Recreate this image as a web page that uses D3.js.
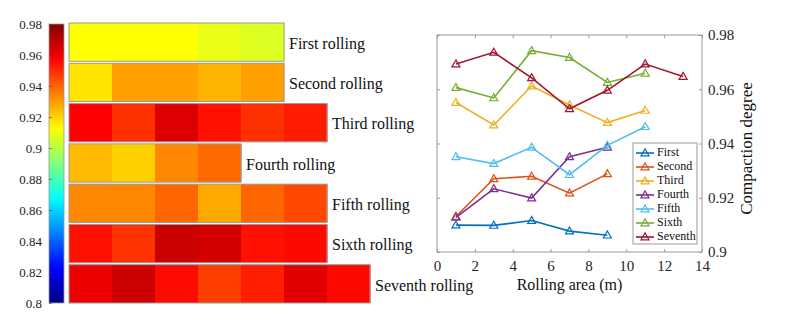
<!DOCTYPE html>
<html><head><meta charset="utf-8">
<script src="https://cdn.jsdelivr.net/npm/d3@7"></script>
<style>
html,body{margin:0;padding:0;background:#fff;}
svg text{font-family:'Liberation Serif','Times New Roman','DejaVu Serif',serif !important;}
</style></head>
<body>
<svg id="chart" width="786" height="331"></svg>
<script>
// ---- data ----
const rollingNames = ["First rolling","Second rolling","Third rolling","Fourth rolling","Fifth rolling","Sixth rolling","Seventh rolling"];
const heatFirst   = [0.9125,0.9125,0.9125,0.9088,0.9065];
const heatSecond  = [0.9173,0.9293,0.9293,0.9257,0.9293];
const heatThird   = [0.9575,0.9490,0.9635,0.9547,0.9490,0.9526];
const heatFourth  = [0.9245,0.9208,0.9335,0.9388];
const heatFifth   = [0.9335,0.9335,0.9395,0.9278,0.9395,0.9448];
const heatSixth   = [0.9547,0.9485,0.9665,0.9651,0.9547,0.9561];
const heatSeventh = [0.9605,0.9665,0.9558,0.9463,0.9520,0.9630,0.9561];
const colorbarTicks = [0.8,0.82,0.84,0.86,0.88,0.9,0.92,0.94,0.96,0.98];

const seriesNames = ["First","Second","Third","Fourth","Fifth","Sixth","Seventh"];
const seriesColors = ["#0072BD","#D95319","#EDB120","#7E2F8E","#4DBEEE","#77AC30","#A2142F"];
const areaX = [1,3,5,7,9,11,13];
const lineFirst   = [0.9099,0.9098,0.9116,0.9077,0.9062];
const lineSecond  = [0.9131,0.9270,0.9279,0.9217,0.9288];
const lineThird   = [0.9551,0.9468,0.9612,0.9542,0.9477,0.9522];
const lineFourth  = [0.9128,0.9233,0.9199,0.9351,0.9386];
const lineFifth   = [0.9351,0.9326,0.9386,0.9285,0.9393,0.9462];
const lineSixth   = [0.9606,0.9568,0.9742,0.9717,0.9625,0.9659];
const lineSeventh = [0.9693,0.9736,0.9642,0.9528,0.9596,0.9693,0.9647];
const xTicks = [0,2,4,6,8,10,12,14];
const yTicks = [0.9,0.92,0.94,0.96,0.98];

const heatRows = [heatFirst,heatSecond,heatThird,heatFourth,heatFifth,heatSixth,heatSeventh];
const lineRows = [lineFirst,lineSecond,lineThird,lineFourth,lineFifth,lineSixth,lineSeventh];

const svg = d3.select("#chart");
const textColor = "#262626";
const FONT = "'Liberation Serif','Times New Roman','DejaVu Serif',serif";

// jet colormap
const jet = d3.scaleLinear()
  .domain([0.8,0.8225,0.8675,0.9125,0.9575,0.98])
  .range(["#000080","#0000ff","#00ffff","#ffff00","#ff0000","#800000"])
  .clamp(true);

// ---- colorbar ----
const cb = {x:49, w:15, top:24, bottom:303};
const cbY = d3.scaleLinear().domain([0.8,0.98]).range([cb.bottom, cb.top]);
const defs = svg.append("defs");
const grad = defs.append("linearGradient").attr("id","jetgrad")
  .attr("x1",0).attr("y1",1).attr("x2",0).attr("y2",0);
d3.range(0,1.0001,0.02).forEach(t=>{
  grad.append("stop").attr("offset",t).attr("stop-color",jet(0.8+0.18*t));
});
svg.append("rect").attr("x",cb.x).attr("y",cb.top).attr("width",cb.w)
  .attr("height",cb.bottom-cb.top).attr("fill","url(#jetgrad)")
  .attr("stroke","#999").attr("stroke-width",0.8);
const cbAxis = svg.append("g").attr("transform",`translate(${cb.x},0)`)
  .call(d3.axisLeft(cbY).tickValues(colorbarTicks).tickSize(-3).tickPadding(7)
    .tickFormat(d=>String(+d.toFixed(2))));
cbAxis.attr("font-family",null).attr("font-size",null);
cbAxis.select(".domain").remove();
cbAxis.selectAll("line").attr("stroke","#444").attr("stroke-width",0.6);
cbAxis.selectAll("text").style("font-family",FONT).style("font-size","13px").attr("fill",textColor);

// ---- heatmap rows ----
const cellW = 43;
const hx0 = 69;
const rowBand = d3.scaleBand().domain(rollingNames).range([23,303]).paddingInner(0.05);
const hx = d3.scaleLinear().domain([0,1]).range([hx0, hx0+cellW]);
rollingNames.forEach((name,i)=>{
  const g = svg.append("g");
  const vals = heatRows[i];
  const y = rowBand(name), h = rowBand.bandwidth();
  g.selectAll("rect.cell").data(vals).enter().append("rect")
    .attr("x",(d,j)=>hx(j)).attr("y",y)
    .attr("width",cellW+0.5).attr("height",h)
    .attr("fill",d=>jet(d));
  g.append("rect").attr("x",hx(0)).attr("y",y)
    .attr("width",hx(vals.length)-hx(0)).attr("height",h)
    .attr("fill","none").attr("stroke","#9a9a9a").attr("stroke-width",1);
  g.append("text").attr("x",hx(vals.length)+5).attr("y",y+h/2+3)
    .attr("dominant-baseline","middle")
    .style("font-family",FONT).style("font-size","16px").attr("fill","#111").text(name);
});

// ---- line chart ----
const L = {left:437, right:702, top:35, bottom:252};
const x = d3.scaleLinear().domain([0,14]).range([L.left,L.right]);
const y = d3.scaleLinear().domain([0.9,0.98]).range([L.bottom,L.top]);
const axisCol = "#9a9a9a";

svg.append("rect").attr("x",L.left).attr("y",L.top)
  .attr("width",L.right-L.left).attr("height",L.bottom-L.top)
  .attr("fill","#fff").attr("stroke",axisCol).attr("stroke-width",1);

// x axis bottom
const gx = svg.append("g").attr("transform",`translate(0,${L.bottom})`)
  .call(d3.axisBottom(x).tickValues(xTicks).tickSize(-3).tickPadding(8));
gx.attr("font-family",null).attr("font-size",null);
gx.select(".domain").remove();
gx.selectAll("line").attr("stroke",axisCol);
gx.selectAll("text").style("font-family",FONT).style("font-size","15px").attr("fill",textColor);
// x ticks top (mirrored)
const gxt = svg.append("g").attr("transform",`translate(0,${L.top})`)
  .call(d3.axisTop(x).tickValues(xTicks).tickSize(-3).tickFormat(""));
gxt.select(".domain").remove();
gxt.selectAll("line").attr("stroke",axisCol);
// y axis right
const gy = svg.append("g").attr("transform",`translate(${L.right},0)`)
  .call(d3.axisRight(y).tickValues(yTicks).tickSize(-3).tickPadding(6)
    .tickFormat(d=>String(+d.toFixed(2))));
gy.attr("font-family",null).attr("font-size",null);
gy.select(".domain").remove();
gy.selectAll("line").attr("stroke",axisCol);
gy.selectAll("text").style("font-family",FONT).style("font-size","15px").attr("fill",textColor);
// y ticks left (mirrored)
const gyl = svg.append("g").attr("transform",`translate(${L.left},0)`)
  .call(d3.axisLeft(y).tickValues(yTicks).tickSize(-3).tickFormat(""));
gyl.select(".domain").remove();
gyl.selectAll("line").attr("stroke",axisCol);

// axis titles
svg.append("text").attr("x",(L.left+L.right)/2).attr("y",290)
  .attr("text-anchor","middle").style("font-family",FONT).style("font-size","16px").attr("fill","#111")
  .text("Rolling area (m)");
svg.append("text").attr("transform",`translate(752,${(L.top+L.bottom)/2+5}) rotate(-90)`)
  .attr("text-anchor","middle").style("font-family",FONT).style("font-size","17px").attr("fill","#111")
  .text("Compaction degree");

// lines
const tri = d3.symbol().type(d3.symbolTriangle).size(28);
const lineGen = d3.line().x((d,j)=>x(areaX[j])).y(d=>y(d));
lineRows.forEach((vals,i)=>{
  const g = svg.append("g");
  g.append("path").datum(vals).attr("d",lineGen)
    .attr("fill","none").attr("stroke",seriesColors[i]).attr("stroke-width",1.6);
  g.selectAll("path.m").data(vals).enter().append("path")
    .attr("transform",(d,j)=>`translate(${x(areaX[j])},${y(d)+0.5})`)
    .attr("d",tri).attr("fill","none").attr("stroke",seriesColors[i]).attr("stroke-width",1.2);
});

// legend
const leg = {x:633, y:143, w:64, h:101};
svg.append("rect").attr("x",leg.x).attr("y",leg.y).attr("width",leg.w).attr("height",leg.h)
  .attr("fill","#fff").attr("stroke",axisCol).attr("stroke-width",1);
const legY = d3.scalePoint().domain(seriesNames).range([leg.y+10, leg.y+leg.h-7]);
seriesNames.forEach((n,i)=>{
  const yy = legY(n);
  svg.append("line").attr("x1",leg.x+3).attr("x2",leg.x+21).attr("y1",yy).attr("y2",yy)
    .attr("stroke",seriesColors[i]).attr("stroke-width",1.6);
  svg.append("path").attr("transform",`translate(${leg.x+12},${yy+0.5})`).attr("d",tri)
    .attr("fill","none").attr("stroke",seriesColors[i]).attr("stroke-width",1.2);
  svg.append("text").attr("x",leg.x+24).attr("y",yy+0.5).attr("dominant-baseline","middle")
    .style("font-family",FONT).style("font-size","12px").attr("fill","#111").text(n);
});
</script>
</body></html>
